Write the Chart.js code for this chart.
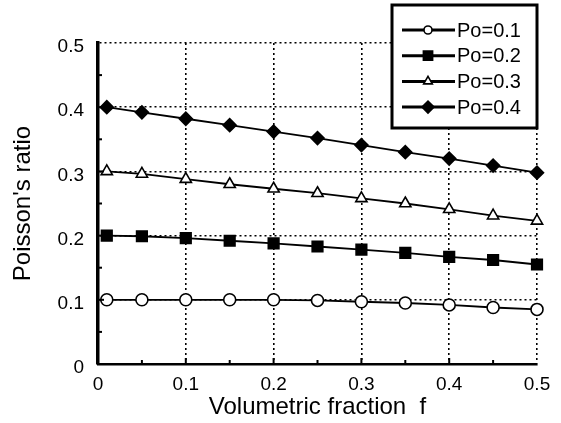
<!DOCTYPE html>
<html lang="en">
<head>
  <meta charset="UTF-8">
  <title>Poisson's ratio vs volumetric fraction</title>
  <script src="https://cdn.jsdelivr.net/npm/chart.js"></script>
  <style>
    body { margin: 0; padding: 0; background: #fff; }
    .chart-box { width: 561px; height: 423px; }
  </style>
</head>
<body>
<div class="chart-box">
  <canvas id="poissonChart"></canvas>
</div>

<script>
  // volumetric fraction f (x values)
  var fractions = [0.01, 0.05, 0.1, 0.15, 0.2, 0.25, 0.3, 0.35, 0.4, 0.45, 0.5];
  // Poisson's ratio, one array per matrix Po
  var po01 = [0.100, 0.100, 0.100, 0.100, 0.100, 0.099, 0.097, 0.095, 0.092, 0.088, 0.085];
  var po02 = [0.200, 0.199, 0.196, 0.192, 0.188, 0.183, 0.178, 0.173, 0.167, 0.162, 0.155];
  var po03 = [0.300, 0.296, 0.288, 0.280, 0.273, 0.266, 0.258, 0.250, 0.241, 0.231, 0.223];
  var po04 = [0.400, 0.392, 0.382, 0.372, 0.362, 0.352, 0.341, 0.330, 0.320, 0.309, 0.298];
  var seriesLabels = ['Po=0.1', 'Po=0.2', 'Po=0.3', 'Po=0.4'];
  var tickValues = [0, 0.1, 0.2, 0.3, 0.4, 0.5];

  function toPoints(values) {
    return fractions.map(function (f, i) { return { x: f, y: values[i] }; });
  }

  var styles = [
    { pointStyle: 'circle',   radius: 6,   fill: '#fff', legendRadius: 4 },
    { pointStyle: 'rect',     radius: 7.5, fill: '#000', legendRadius: 6.5 },
    { pointStyle: 'triangle', radius: 6.5, fill: '#fff', legendRadius: 5 },
    { pointStyle: 'rectRot',  radius: 6.5, fill: '#000', legendRadius: 6 }
  ];

  var datasets = [po01, po02, po03, po04].map(function (vals, i) {
    return {
      label: seriesLabels[i],
      data: toPoints(vals),
      borderColor: '#000',
      borderWidth: 1.8,
      pointStyle: styles[i].pointStyle,
      pointRadius: styles[i].radius,
      pointBackgroundColor: styles[i].fill,
      pointBorderColor: '#000',
      pointBorderWidth: 1.6,
      tension: 0,
      fill: false,
      clip: false
    };
  });

  // small inside tick marks every 0.05 on both axes
  var insideTicks = {
    id: 'insideTicks',
    afterDatasetsDraw: function (chart) {
      var ctx = chart.ctx, xs = chart.scales.x, ys = chart.scales.y;
      var area = chart.chartArea;
      ctx.save();
      ctx.strokeStyle = '#000';
      ctx.lineWidth = 2;
      for (var k = 1; k < 10; k++) {
        var v = k * 0.05;
        var len = (k % 2 === 0) ? 6 : 4;
        var px = xs.getPixelForValue(v);
        ctx.beginPath();
        ctx.moveTo(px, area.bottom);
        ctx.lineTo(px, area.bottom - len);
        ctx.stroke();
        var py = ys.getPixelForValue(v);
        ctx.beginPath();
        ctx.moveTo(area.left, py);
        ctx.lineTo(area.left + len, py);
        ctx.stroke();
      }
      ctx.restore();
    }
  };

  // boxed legend in the upper right, overlapping the plot corner
  var boxLegend = {
    id: 'boxLegend',
    afterDraw: function (chart) {
      var ctx = chart.ctx;
      var right = chart.chartArea.right;
      var left = 392, top = 5, bottom = 128;
      ctx.save();
      ctx.fillStyle = '#fff';
      ctx.fillRect(left, top, right - left, bottom - top);
      ctx.strokeStyle = '#000';
      ctx.lineWidth = 3;
      ctx.strokeRect(left, top, right - left, bottom - top);
      ctx.font = '20px "Liberation Sans", Arial, sans-serif';
      ctx.textBaseline = 'middle';
      chart.data.datasets.forEach(function (ds, i) {
        var y = 30 + i * 25.7;
        ctx.strokeStyle = '#000';
        ctx.lineWidth = 3;
        ctx.beginPath();
        ctx.moveTo(402, y);
        ctx.lineTo(455, y);
        ctx.stroke();
        ctx.fillStyle = styles[i].fill;
        ctx.lineWidth = 1.6;
        Chart.helpers.drawPoint(ctx, {
          pointStyle: styles[i].pointStyle,
          radius: styles[i].legendRadius,
          rotation: 0,
          borderWidth: 1.6
        }, 428, y);
        ctx.fillStyle = '#000';
        ctx.fillText(ds.label, 457, y + 1);
      });
      ctx.restore();
    }
  };

  var tickFont = { family: '"Liberation Sans", Arial, sans-serif', size: 19 };
  var titleFont = { family: '"Liberation Sans", Arial, sans-serif', size: 24 };
  var dotted = { color: '#000', lineWidth: 1.6, drawTicks: false };

  var ctx = document.getElementById('poissonChart').getContext('2d');
  var poissonChart = new Chart(ctx, {
    type: 'line',
    data: { datasets: datasets },
    plugins: [insideTicks, boxLegend],
    options: {
      responsive: true,
      maintainAspectRatio: false,
      animation: false,
      layout: { padding: { top: 43, right: 24, left: 0, bottom: 0 } },
      plugins: {
        legend: { display: false },
        tooltip: { enabled: false }
      },
      scales: {
        x: {
          type: 'linear',
          min: 0,
          max: 0.5,
          afterBuildTicks: function (scale) {
            scale.ticks = tickValues.map(function (v) { return { value: v }; });
          },
          afterFit: function (scale) { scale.height = 59; },
          grid: dotted,
          // in v4 border.dash styles the grid lines; the axis line stays solid
          border: { color: '#000', width: 2.5, dash: [2, 3] },
          ticks: {
            color: '#000',
            font: tickFont,
            padding: 9,
            maxRotation: 0,
            callback: function (v) { return String(+v.toFixed(1)); }
          },
          title: {
            display: true,
            text: 'Volumetric fraction  f',
            color: '#000',
            font: titleFont,
            padding: { top: 0, bottom: 1 }
          }
        },
        y: {
          type: 'linear',
          min: 0,
          max: 0.5,
          afterBuildTicks: function (scale) {
            scale.ticks = tickValues.map(function (v) { return { value: v }; });
          },
          afterFit: function (scale) { scale.width = 98; },
          grid: dotted,
          border: { color: '#000', width: 3.5, dash: [2, 3] },
          ticks: {
            color: '#000',
            font: tickFont,
            padding: 14,
            labelOffset: 4,
            callback: function (v) { return String(+v.toFixed(1)); }
          },
          title: {
            display: true,
            text: "Poisson's ratio",
            color: '#000',
            font: titleFont,
            padding: { top: 9, bottom: 0 }
          }
        }
      }
    }
  });
</script>
</body>
</html>
